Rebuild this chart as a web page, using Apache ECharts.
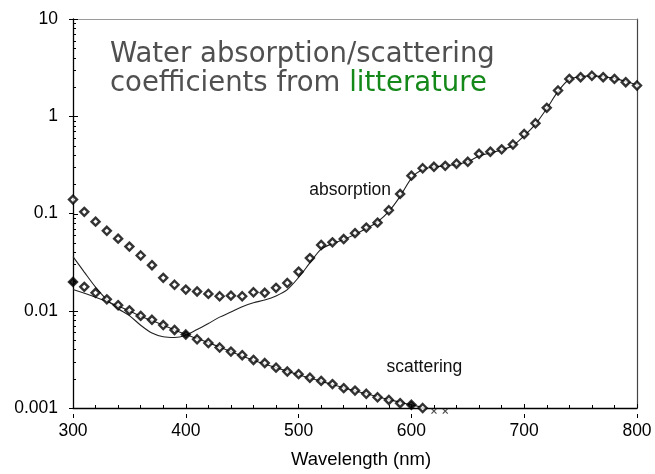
<!DOCTYPE html>
<html><head><meta charset="utf-8">
<script src="https://cdn.jsdelivr.net/npm/echarts@6/dist/echarts.min.js"></script>
<style>html,body{margin:0;padding:0;background:#fff}#c{width:655px;height:474px}</style>
</head><body><div id="c"></div>
<script>
// ---- data ----
const wavelengths = [300,310,320,330,340,350,360,370,380,390,400,410,420,430,440,450,460,470,480,490,500,
  510,520,530,540,550,560,570,580,590,600,610,620,630,640,650,660,670,680,690,700,
  710,720,730,740,750,760,770,780,790,800];
const absorptionPoints = [0.139,0.104,0.0824,0.0664,0.0551,0.0457,0.0370,0.0294,0.0218,0.0185,0.0165,
  0.0158,0.0149,0.0141,0.0143,0.0141,0.0155,0.0153,0.0172,0.0193,0.0252,
  0.0348,0.0475,0.0505,0.0546,0.0628,0.0716,0.0805,0.108,0.159,0.245,
  0.292,0.302,0.309,0.325,0.340,0.411,0.432,0.457,0.512,0.657,
  0.847,1.22,1.84,2.42,2.52,2.61,2.52,2.42,2.24,2.07];
const scatteringWl = [300,310,320,330,340,350,360,370,380,390,400,410,420,430,440,450,460,470,480,490,500,
  510,520,530,540,550,560,570,580,590,600,610];
const scatteringPoints = [0.0198,0.0176,0.0153,0.0131,0.0114,0.0101,0.00885,0.00807,0.00713,0.00635,0.00569,
  0.00509,0.00466,0.00419,0.00380,0.00349,0.00312,0.00290,0.00260,0.00237,0.00223,
  0.00205,0.00190,0.00176,0.00160,0.00151,0.00140,0.00129,0.00121,0.00112,0.00108,0.00100];
const scatteringFilledWl = [300,400,600];
const absorptionLineWl = [300,310,320,330,340,350,360,370,380,390,400,410,420,430,440,450,460,470,480,490,500,
  510,520,530,540,550,560,570,580,590,600,610,620,630,640,650,660,670,680,690,700,
  710,720,730,740,750,760,770,780,790,800];
const absorptionLineVal = [0.036,0.025,0.0175,0.0130,0.0105,0.0089,0.0071,0.0059,0.0054,0.0053,0.0056,
  0.0064,0.0074,0.0086,0.0097,0.0110,0.0121,0.0129,0.0142,0.0165,0.0220,
  0.0310,0.0430,0.0490,0.0540,0.0610,0.0700,0.0820,0.1050,0.1500,0.2300,
  0.2850,0.3000,0.3100,0.3200,0.3400,0.3900,0.4200,0.4500,0.5000,0.6300,
  0.8300,1.2000,1.8000,2.4000,2.5500,2.6000,2.5500,2.4500,2.2800,2.1000];
const scatteringLineWl = [300,320,340,360,380,400,420,440,460,480,500,520,540,560,580,600,612];
const scatteringLineVal = [0.0165,0.0138,0.0112,0.0088,0.0071,0.0057,0.0047,0.0038,0.0031,0.0026,0.0022,
  0.00189,0.00161,0.00140,0.00122,0.00108,0.00100];
const offscaleWl = [620,630];
const offscaleVal = [0.00093,0.00093];
const xTickLabels = ['300','400','500','600','700','800'];
const xTickValues = [300,400,500,600,700,800];
const yTickLabels = ['0.001','0.01','0.1','1','10'];
const yTickValues = [0.001,0.01,0.1,1,10];
const yMinorTicks = [0.002,0.003,0.004,0.005,0.006,0.007,0.008,0.009,
  0.02,0.03,0.04,0.05,0.06,0.07,0.08,0.09,
  0.2,0.3,0.4,0.5,0.6,0.7,0.8,0.9,
  2,3,4,5,6,7,8,9];
const titleLine1 = 'Water absorption/scattering';
const titleLine2a = 'coefficients from ';
const titleLine2b = 'litterature';
const xAxisName = 'Wavelength (nm)';
const absorptionLabel = {text:'absorption', at:[545.7, 0.174]};
const scatteringLabel = {text:'scattering', at:[611.5, 0.00265]};

// ---- chart ----
const chart = echarts.init(document.getElementById('c'), null, {renderer:'canvas'});
const F = '"Liberation Sans", Arial, sans-serif';
const gridRect = {left:73, right:18, top:19, bottom:60};
const markerStyle = {color:'#fff', borderColor:'#000', borderWidth:2.4};

const scatData = scatteringWl.map((w,i)=>{
  const filled = scatteringFilledWl.indexOf(w) >= 0;
  return {value:[w, scatteringPoints[i]], itemStyle: filled ? {color:'#000'} : undefined};
});

const tickData = yMinorTicks.map(v=>[300, v, 3]).concat(yTickValues.map(v=>[300, v, 5]));

const option = {
  animation:false,
  backgroundColor:'#fff',
  title:{
    text:'{a|'+titleLine1+'}\n{a|'+titleLine2a+'}{g|'+titleLine2b+'}',
    left:105, top:36,
    textStyle:{fontWeight:'normal', rich:{
      a:{fontFamily:'"DejaVu Sans"', fontWeight:'normal', fontSize:27.5, color:'#505050', lineHeight:28.5},
      g:{fontFamily:'"DejaVu Sans"', fontWeight:'normal', fontSize:27.5, color:'#14891a', lineHeight:28.5}
    }}
  },
  grid:[Object.assign({}, gridRect), Object.assign({}, gridRect)],
  xAxis:[
    {type:'value', gridIndex:0, position:'bottom', min:300, max:800, interval:100,
     axisLine:{show:true, lineStyle:{color:'#000', width:1.3}},
     axisTick:{show:true, inside:true, length:4, lineStyle:{color:'#000', width:1}},
     minorTick:{show:true, splitNumber:5, length:3, lineStyle:{color:'#000', width:1}},
     axisLabel:{margin:14, fontFamily:F, fontSize:17.5, color:'#000',
       formatter:v=>{const i=xTickValues.indexOf(v); return i>=0?xTickLabels[i]:'';}},
     splitLine:{show:false},
     name:xAxisName, nameLocation:'middle', nameGap:42,
     nameTextStyle:{fontFamily:F, fontSize:18.5, color:'#000', padding:[0,0,0,12]}},
    {type:'value', gridIndex:0, position:'top', min:300, max:800, interval:100,
     axisLine:{show:true, lineStyle:{color:'#9a9a9a', width:1.2}},
     axisTick:{show:false}, axisLabel:{show:false}, splitLine:{show:false}},
    {type:'value', gridIndex:1, position:'bottom', min:300, max:800, interval:100,
     axisLine:{show:false},
     axisTick:{show:true, inside:false, length:4, lineStyle:{color:'#000', width:1}},
     axisLabel:{show:false}, splitLine:{show:false}}
  ],
  yAxis:[
    {type:'log', logBase:10, gridIndex:0, position:'left', min:0.001, max:10,
     axisLine:{show:true, lineStyle:{color:'#000', width:1.3}},
     axisTick:{show:true, inside:false, length:4, lineStyle:{color:'#000', width:1}},
     axisLabel:{margin:15, fontFamily:F, fontSize:17.5, color:'#000',
       formatter:v=>{let best=0,bd=1e9; yTickValues.forEach((t,i)=>{const d=Math.abs(Math.log10(t)-Math.log10(v)); if(d<bd){bd=d;best=i;}}); return bd<0.01?yTickLabels[best]:'';}},
     splitLine:{show:false}},
    {type:'log', logBase:10, gridIndex:0, position:'right', min:0.001, max:10,
     axisLine:{show:true, lineStyle:{color:'#444', width:1.2}},
     axisTick:{show:false}, axisLabel:{show:false}, splitLine:{show:false}},
    {type:'log', logBase:10, gridIndex:1, position:'left', min:0.001, max:10,
     axisLine:{show:false}, axisTick:{show:false}, axisLabel:{show:false}, splitLine:{show:false}}
  ],
  series:[
    {type:'custom', xAxisIndex:0, yAxisIndex:0, silent:true, z:3,
     renderItem:(params, api)=>{
       const p = api.coord([api.value(0), api.value(1)]);
       const len = api.value(2);
       const y = Math.round(p[1]) + 0.5;
       return {type:'line', shape:{x1:p[0], y1:y, x2:p[0]+len, y2:y}, style:{stroke:'#000', lineWidth:1}};
     },
     data:tickData},
    {type:'line', name:'absorption fit', xAxisIndex:0, yAxisIndex:0, smooth:0.3, showSymbol:false, silent:true,
     lineStyle:{color:'#222', width:1.1}, z:4,
     data:absorptionLineWl.map((w,i)=>[w, absorptionLineVal[i]])},
    {type:'line', name:'scattering fit', xAxisIndex:0, yAxisIndex:0, smooth:0.3, showSymbol:false, silent:true,
     lineStyle:{color:'#222', width:1.1}, z:4,
     data:scatteringLineWl.map((w,i)=>[w, scatteringLineVal[i]])},
    {type:'scatter', name:'absorption', xAxisIndex:0, yAxisIndex:0, symbol:'diamond', symbolSize:8,
     itemStyle:markerStyle, z:5, silent:true,
     data:wavelengths.map((w,i)=>[w, absorptionPoints[i]])},
    {type:'scatter', name:'scattering', xAxisIndex:0, yAxisIndex:0, symbol:'diamond', symbolSize:8,
     itemStyle:markerStyle, z:5, silent:true, data:scatData},
    {type:'scatter', name:'off-scale', xAxisIndex:0, yAxisIndex:0, clip:false,
     symbol:'path://M0,0L10,10M10,0L0,10', symbolSize:5, silent:true, z:5,
     itemStyle:{color:'none', borderColor:'#222', borderWidth:1.2},
     data:offscaleWl.map((w,i)=>[w, offscaleVal[i]])}
  ]
};
chart.setOption(option);

const pA = chart.convertToPixel({xAxisIndex:0, yAxisIndex:0}, absorptionLabel.at);
const pS = chart.convertToPixel({xAxisIndex:0, yAxisIndex:0}, scatteringLabel.at);
chart.setOption({graphic:[
  {type:'text', x:pA[0], y:pA[1], z:10, silent:true,
   style:{text:absorptionLabel.text, align:'center', verticalAlign:'middle', font:'17.5px "Liberation Sans"', fill:'#111'}},
  {type:'text', x:pS[0], y:pS[1], z:10, silent:true,
   style:{text:scatteringLabel.text, align:'center', verticalAlign:'middle', font:'17.5px "Liberation Sans"', fill:'#111'}}
]});
</script>
</body></html>
